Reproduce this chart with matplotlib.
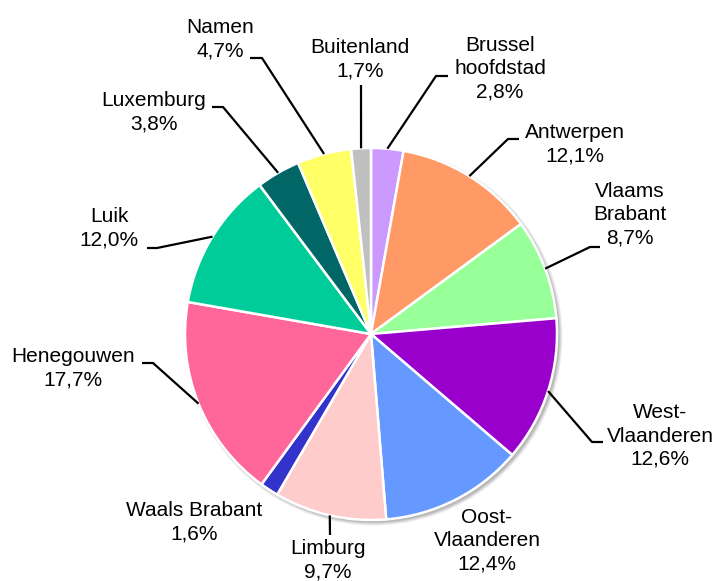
import numpy as np
import matplotlib
matplotlib.use("Agg")
import matplotlib.pyplot as plt
from matplotlib.patches import Circle

regions = ["Brussel\nhoofdstad", "Antwerpen", "Vlaams\nBrabant", "West-\nVlaanderen",
           "Oost-\nVlaanderen", "Limburg", "Waals Brabant", "Henegouwen", "Luik",
           "Luxemburg", "Namen", "Buitenland"]
shares = [2.8, 12.1, 8.7, 12.6, 12.4, 9.7, 1.6, 17.7, 12.0, 3.8, 4.7, 1.7]
colors = ["#CC99FF", "#FF9966", "#99FF99", "#9900CC", "#6699FF", "#FFCCCC",
          "#3333CC", "#FF6699", "#00CC99", "#006666", "#FFFF66", "#C0C0C0"]

W, H = 721, 581
CX, CY, R = 371, 334, 186

# label layout in pixel coords (x, y from top): text centre, leader elbow + end
text_pos = [(500, 69), (575, 144), (630, 215), (660, 436), (487, 541), (328, 560),
            (194, 522), (73, 368), (109, 228), (154, 112), (220, 39), (360, 59)]
leaders = [[(436, 76), (448, 76)], [(508, 139), (519, 139)], [(590, 247), (600, 247)],
           [(592, 442), (603, 442)], None, [(330, 535)], None,
           [(153, 363), (142, 363)], [(157, 248), (147, 248)],
           [(223, 107), (212, 107)], [(262, 58), (250, 58)], [(361, 85)]]

plt.rcParams["font.family"] = ["Liberation Sans", "DejaVu Sans"]
fig = plt.figure(figsize=(W / 100, H / 100), dpi=100)
ax = fig.add_axes([0, 0, 1, 1])
ax.set_xlim(0, W)
ax.set_ylim(0, H)
ax.set_aspect("equal")
ax.axis("off")


def fy(y):
    return H - y


# soft shadow behind the pie
for k, a in enumerate([0.06, 0.07, 0.08, 0.10]):
    ax.add_patch(Circle((CX + 2.5, fy(CY) - 2.5), R + 3 - k, color="#000000",
                        alpha=a, lw=0, zorder=0))

wedges, _ = ax.pie(shares, colors=colors, startangle=90, counterclock=False,
                   center=(CX, fy(CY)), radius=R, frame=True,
                   wedgeprops=dict(edgecolor="white", linewidth=1.8))
ax.set_xlim(0, W)
ax.set_ylim(0, H)
ax.axis("off")

for w, name, v, (tx, ty), ld in zip(wedges, regions, shares, text_pos, leaders):
    label = f"{name}\n{v:.1f}".replace(".", ",") + "%"
    ax.text(tx, fy(ty), label, ha="center", va="center", multialignment="center",
            fontsize=15, linespacing=1.28, color="black", zorder=5)
    if ld is None:
        continue
    mid = np.deg2rad((w.theta1 + w.theta2) / 2)
    xs = [CX + R * np.cos(mid)] + [p[0] for p in ld]
    ys = [fy(CY) + R * np.sin(mid)] + [fy(p[1]) for p in ld]
    ax.plot(xs, ys, color="black", lw=1.6, solid_capstyle="butt", zorder=4)

fig.savefig("out.png", dpi=100, facecolor="white")
